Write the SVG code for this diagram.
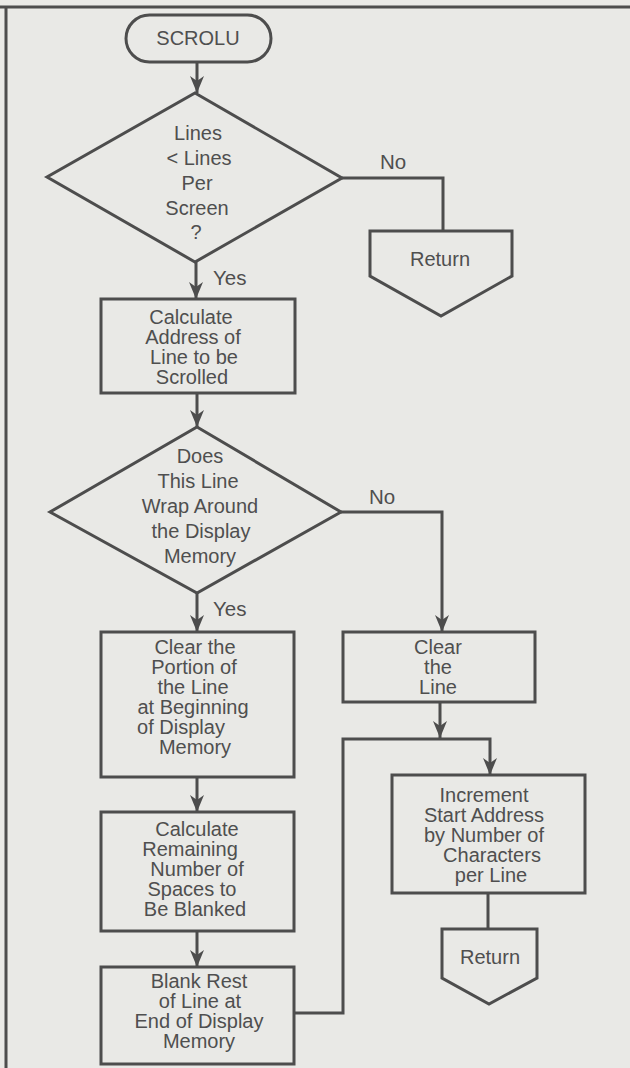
<svg xmlns="http://www.w3.org/2000/svg" width="630" height="1068" viewBox="0 0 630 1068">
  <style>
    .shape { fill: none; stroke: #4d4d4d; stroke-width: 3; stroke-linejoin: miter; }
    .wire { fill: none; stroke: #4d4d4d; stroke-width: 3; }
    .lbl { font-family: "Liberation Sans", Arial, sans-serif; font-size: 20px; fill: #4f4f4f; text-anchor: middle; }
    .tag { font-family: "Liberation Sans", Arial, sans-serif; font-size: 20.5px; fill: #4f4f4f; text-anchor: start; }
  </style>
  <defs>
    <marker id="arrow" viewBox="0 0 17 14" refX="17" refY="7" markerWidth="17" markerHeight="14" markerUnits="userSpaceOnUse" orient="auto">
      <path d="M0,0 L17,7 L0,14 L5,7 Z" fill="#4d4d4d"/>
    </marker>
  </defs>

  <!-- page -->
  <rect x="0" y="0" width="630" height="1068" fill="#e9e9e6"/>
  <path class="wire" d="M0,7 H630 M6,7 V1068"/>

  <!-- connectors -->
  <g id="connectors">
    <path class="wire" d="M197,62 V93" marker-end="url(#arrow)"/>
    <path class="wire" d="M342,178 H443 V231"/>
    <path class="wire" d="M196,262 V299" marker-end="url(#arrow)"/>
    <path class="wire" d="M197,393 V427" marker-end="url(#arrow)"/>
    <path class="wire" d="M341,512 H442 V632" marker-end="url(#arrow)"/>
    <path class="wire" d="M197,593 V632" marker-end="url(#arrow)"/>
    <path class="wire" d="M197,777 V812" marker-end="url(#arrow)"/>
    <path class="wire" d="M197,931 V967" marker-end="url(#arrow)"/>
    <path class="wire" d="M440,702 V738" marker-end="url(#arrow)"/>
    <path class="wire" d="M294,1013 H343 V739 H490 V775" marker-end="url(#arrow)"/>
    <path class="wire" d="M488,893 V929"/>
    <text class="tag" x="380" y="169">No</text>
    <text class="tag" x="213" y="285">Yes</text>
    <text class="tag" x="369" y="504">No</text>
    <text class="tag" x="213" y="616">Yes</text>
  </g>

  <g id="start">
    <rect class="shape" x="126" y="15" width="145" height="47" rx="23.5"/>
    <text class="lbl" x="198" y="45">SCROLU</text>
  </g>

  <g id="check-lines">
    <polygon class="shape" points="195,93 342,178 195,262 47,177"/>
    <text class="lbl"><tspan x="198" y="140">Lines</tspan><tspan x="199" y="165">&lt; Lines</tspan><tspan x="197" y="190">Per</tspan><tspan x="197" y="215">Screen</tspan><tspan x="196" y="239">?</tspan></text>
  </g>

  <g id="return-1">
    <polygon class="shape" points="370,231 512,231 512,276 441,316 370,276"/>
    <text class="lbl" x="440" y="266">Return</text>
  </g>

  <g id="calc-address">
    <rect class="shape" x="101" y="299" width="194" height="94"/>
    <text class="lbl"><tspan x="191" y="324">Calculate</tspan><tspan x="193" y="344">Address of</tspan><tspan x="194" y="364">Line to be</tspan><tspan x="192" y="384">Scrolled</tspan></text>
  </g>

  <g id="check-wrap">
    <polygon class="shape" points="197,427 341,512 197,593 50,512"/>
    <text class="lbl"><tspan x="200" y="463">Does</tspan><tspan x="198" y="488">This Line</tspan><tspan x="200" y="513">Wrap Around</tspan><tspan x="201" y="538">the Display</tspan><tspan x="200" y="563">Memory</tspan></text>
  </g>

  <g id="clear-portion">
    <rect class="shape" x="101" y="632" width="193" height="145"/>
    <text class="lbl"><tspan x="195" y="654">Clear the</tspan><tspan x="194" y="674">Portion of</tspan><tspan x="193" y="694">the Line</tspan><tspan x="193" y="714">at Beginning</tspan><tspan x="181" y="734">of Display</tspan><tspan x="195" y="754">Memory</tspan></text>
  </g>

  <g id="clear-line">
    <rect class="shape" x="343" y="632" width="192" height="70"/>
    <text class="lbl"><tspan x="438" y="654">Clear</tspan><tspan x="438" y="674">the</tspan><tspan x="438" y="694">Line</tspan></text>
  </g>

  <g id="calc-remaining">
    <rect class="shape" x="101" y="812" width="193" height="119"/>
    <text class="lbl"><tspan x="197" y="836">Calculate</tspan><tspan x="190" y="856">Remaining</tspan><tspan x="197" y="876">Number of</tspan><tspan x="192" y="896">Spaces to</tspan><tspan x="195" y="916">Be Blanked</tspan></text>
  </g>

  <g id="blank-rest">
    <rect class="shape" x="101" y="967" width="193" height="97"/>
    <text class="lbl"><tspan x="199" y="988">Blank Rest</tspan><tspan x="200" y="1008">of Line at</tspan><tspan x="199" y="1028">End of Display</tspan><tspan x="199" y="1048">Memory</tspan></text>
  </g>

  <g id="increment">
    <rect class="shape" x="392" y="775" width="193" height="118"/>
    <text class="lbl"><tspan x="484" y="802">Increment</tspan><tspan x="484" y="822">Start Address</tspan><tspan x="484" y="842">by Number of</tspan><tspan x="492" y="862">Characters</tspan><tspan x="491" y="882">per Line</tspan></text>
  </g>

  <g id="return-2">
    <polygon class="shape" points="442,929 537,929 537,978 489,1004 442,978"/>
    <text class="lbl" x="490" y="964">Return</text>
  </g>
</svg>
